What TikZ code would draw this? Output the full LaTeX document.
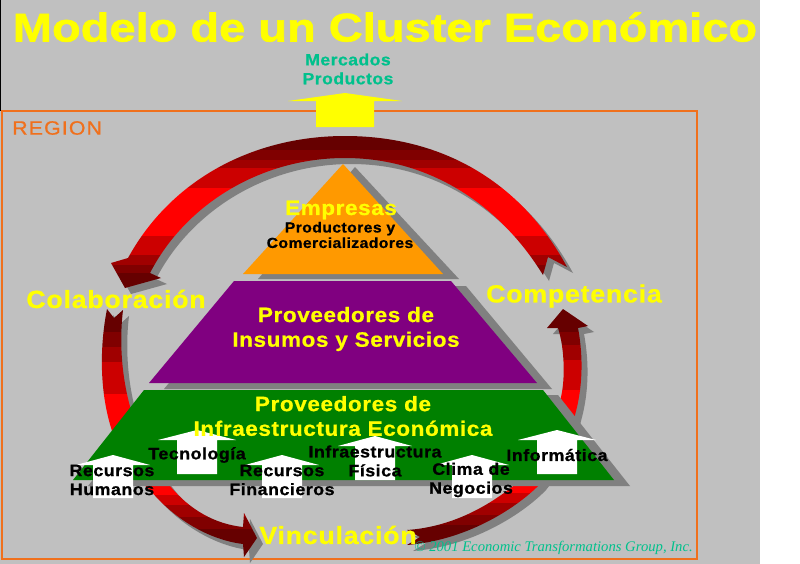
\documentclass[tikz,border=0pt]{standalone}
\usepackage{fontspec}
\setmainfont{Liberation Sans}
\newfontfamily\titlefont[FakeStretch=1.175,FakeBold=1.5]{Liberation Sans Bold}
\newfontfamily\widefont[LetterSpace=3,FakeStretch=1.08,FakeBold=0.8]{Liberation Sans Bold}
\newfontfamily\regionfont[LetterSpace=6,FakeStretch=1.1,FakeBold=0.8]{Liberation Sans}
\newfontfamily\notefont{Liberation Serif Italic}
\usetikzlibrary{positioning}

\definecolor{backgray}{HTML}{C0C0C0}
\definecolor{shadegray}{HTML}{808080}
\definecolor{regionorange}{HTML}{F0701C}
\definecolor{tealtext}{HTML}{00C08C}
\definecolor{signyellow}{HTML}{FFFF00}
\definecolor{toporange}{HTML}{FF9900}
\definecolor{midpurple}{HTML}{800080}
\definecolor{lowgreen}{HTML}{008000}
\definecolor{bandA}{HTML}{660000}
\definecolor{bandB}{HTML}{800000}
\definecolor{bandC}{HTML}{A00000}
\definecolor{bandD}{HTML}{CC0000}
\definecolor{bandE}{HTML}{FF0000}

\tikzset{
  lbl/.style={inner sep=0pt, align=center},
  headtext/.style={lbl, text=signyellow, font=\widefont\fontsize{15.6}{18.5}\selectfont},
  ringtext/.style={lbl, text=signyellow, font=\widefont\fontsize{18.6}{22}\selectfont},
  blacktext/.style={lbl, text=black, font=\widefont\fontsize{12.4}{14.2}\selectfont},
  shade layer/.style={fill=shadegray, shift={(#1,#1)}},
}

% ribbons, in pixels of the picture
\newcommand{\ribbontop}{(567,267) -- (548,257) -- (543,275)
  .. controls (500,205) and (430,158) .. (345,158)
  .. controls (260,158) and (185,205) .. (150,273)
  -- (161,278) -- (125,288) -- (111,263) -- (128,258)
  .. controls (172,178) and (255,136) .. (345,136)
  .. controls (440,136) and (520,180) .. (567,267) -- cycle}
\newcommand{\ribbonleft}{(107,309) -- (114,318) -- (123,310)
  .. controls (117,360) and (125,430) .. (170,486)
  .. controls (190,510) and (215,524) .. (243,527)
  -- (244,513) -- (257,538) -- (244,557) -- (243,544)
  .. controls (210,540) and (175,520) .. (150,490)
  .. controls (102,450) and (95,370) .. (107,309) -- cycle}
\newcommand{\ribbonright}{(407,530) -- (420,537) -- (407,545)
  .. controls (470,540) and (520,505) .. (540,484)
  .. controls (555,465) and (570,440) .. (575,415)
  .. controls (582,390) and (584,360) .. (578,328)
  -- (588,326) -- (563,309) -- (547,328) -- (558,328)
  .. controls (565,350) and (565,380) .. (561,397)
  .. controls (555,440) and (535,470) .. (512,487)
  .. controls (485,508) and (450,527) .. (407,530) -- cycle}

\newcommand{\bandribbon}[2]{
  \fill[shade layer=6] #1;
  \begin{scope}
    \clip #1;
    \foreach \ya/\yb/\col in {#2}
      \fill[\col] (0,\ya) rectangle (800,\yb);
  \end{scope}
}

\begin{document}
\begin{tikzpicture}[x=0.75pt, y=-0.75pt]
  \useasboundingbox (0,0) rectangle (800,564);
  \fill[white] (0,0) rectangle (800,564);
  \fill[backgray] (0,0) rectangle (760,564);
  \fill[black] (0,0) rectangle (1,111);
  \draw[regionorange, line width=1.8pt] (2,111) rectangle (697,559);

  % exit arrow
  \fill[signyellow] (345,93) -- (402,101) -- (374,101) -- (374,127) -- (316,127) -- (316,101) -- (288,101) -- cycle;

  % ribbons
  \bandribbon{\ribbontop}{136/150/bandA, 150/160/bandB, 160/168/bandC, 168/188/bandD, 188/236/bandE, 236/255/bandD, 255/265/bandC, 265/273/bandB, 273/295/bandA}
  \bandribbon{\ribbonleft}{305/332/bandA, 332/347/bandB, 347/362/bandC, 362/394/bandD, 394/495/bandE, 495/505/bandD, 505/517/bandC, 517/529/bandB, 529/560/bandA}
  \bandribbon{\ribbonright}{305/332/bandA, 332/345/bandB, 345/360/bandC, 360/390/bandD, 390/493/bandE, 493/503/bandD, 503/515/bandC, 515/525/bandB, 525/550/bandA}

  % pyramid
  \fill[shadegray] (355,167) -- (459,279) -- (258,279) -- cycle;
  \fill[toporange] (343,164) -- (443,274) -- (243,274) -- cycle;
  \fill[shadegray] (466,286) -- (552,389) -- (164,389) -- (249,286) -- cycle;
  \fill[midpurple] (234,281) -- (451,281) -- (537,383) -- (149,383) -- cycle;
  \fill[shadegray] (558,395) -- (630,486) -- (88,486) -- (159,395) -- cycle;
  \fill[lowgreen] (144,390) -- (543,390) -- (614,480) -- (73,480) -- cycle;

  % white arrows: tip x, tip y, half wing, bottom y
  \foreach \tx/\ty/\wing/\yb in {113/455/37/498, 197/430/39/474, 282/455/37/498, 375/436/37/480, 472/455/37/498, 557/430/39/474}
    \fill[white] (\tx,\ty) -- ({\tx+\wing},\ty+10) -- (\tx+20,\ty+10) -- (\tx+20,\yb) -- (\tx-20,\yb) -- (\tx-20,\ty+10) -- ({\tx-\wing},\ty+10) -- cycle;

  % texts
  \node[lbl, text=signyellow, font=\titlefont\fontsize{30}{36}\selectfont] (title) at (385,27) {Modelo de un Cluster Económico};
  \node[lbl, text=tealtext, font=\widefont\fontsize{12.2}{14.2}\selectfont] (mercados) at (348,69) {Mercados\\Productos};
  \node[lbl, anchor=west, text=regionorange, font=\regionfont\fontsize{14.5}{16}\selectfont] (region) at (12,128) {REGION};

  \node[headtext] (empresas) at (341,210) {Empresas};
  \node[lbl, text=black, font=\widefont\fontsize{10.9}{11.6}\selectfont] (productores) at (340,235) {Productores y\\Comercializadores};
  \node[headtext] (insumos) at (346,329) {Proveedores de\\Insumos y Servicios};
  \node[headtext] (infra) at (343,416) {Proveedores de\\Infraestructura Económica};

  \node[ringtext] (colabora) at (116,299) {Colaboración};
  \node[ringtext] (compite) at (574,296) {Competencia};
  \node[ringtext] (vincula) at (338,535) {Vinculación};

  \node[blacktext] (humanos) at (112,480) {Recursos\\Humanos};
  \node[blacktext] (tecno) at (197,455) {Tecnología};
  \node[blacktext] (finan) at (282,480) {Recursos\\Financieros};
  \node[blacktext] (fisica) at (375,461) {Infraestructura\\Física};
  \node[blacktext] (clima) at (471,480) {Clima de\\Negocios};
  \node[blacktext] (informa) at (557,455) {Informática};

  \node[lbl, anchor=east, text=tealtext, font=\notefont\fontsize{11}{13}\selectfont] (grupo) at (693,548) {© 2001 Economic Transformations Group, Inc.};
\end{tikzpicture}
\end{document}
